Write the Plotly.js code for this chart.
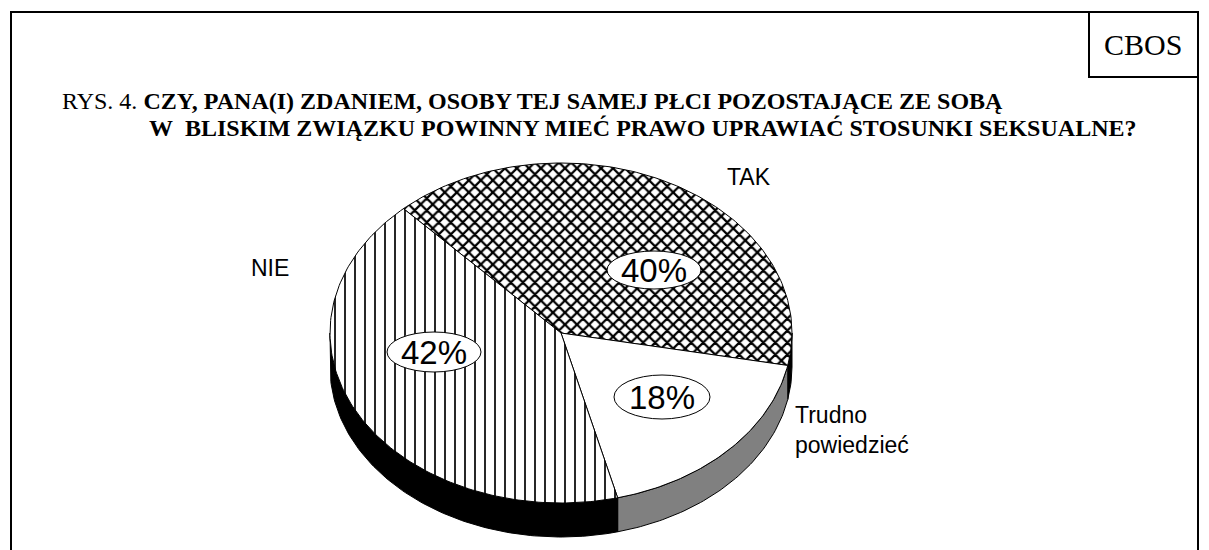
<!DOCTYPE html>
<html>
<head>
<meta charset="utf-8">
<script src="https://cdn.plot.ly/plotly-3.0.1.min.js"></script>
<style>html,body{margin:0;padding:0;background:#fff;}#chart{width:1209px;height:550px;}</style>
</head>
<body>
<div id="chart"></div>
<script>
// ---- data ----
const categories = ['TAK', 'Trudno powiedzieć', 'NIE'];
const values = [40, 18, 42];
const pctLabels = ['40%', '18%', '42%'];
const titleNormal = 'RYS. 4. ';
const titleLine1 = 'CZY, PANA(I) ZDANIEM, OSOBY TEJ SAMEJ PŁCI POZOSTAJĄCE ZE SOBĄ';
const titleLine2 = 'W\u00a0 BLISKIM ZWIĄZKU POWINNY MIEĆ PRAWO UPRAWIAĆ STOSUNKI SEKSUALNE?';
const sourceLabel = 'CBOS';

// ---- geometry / style (layout, not data) ----
const G = {cx: 561, cy: 333, rx: 231, ry: 170, depth: 34, start: 133};
const topStyles = [
  {fillcolor: 'white', fillpattern: {shape: 'x', fgcolor: 'black', bgcolor: 'white', size: 8.5, solidity: 0.45, fgopacity: 1}},
  {fillcolor: 'white'},
  {fillcolor: 'white', fillpattern: {shape: '|', fgcolor: 'black', bgcolor: 'white', size: 10, solidity: 0.17, fgopacity: 1}}
];
const sideColors = ['#000000', '#808080', '#000000'];

function pt(aDeg, dy) {
  const a = aDeg * Math.PI / 180;
  return [G.cx + G.rx * Math.cos(a), G.cy - G.ry * Math.sin(a) + (dy || 0)];
}

const total = values.reduce((s, v) => s + v, 0);
const traces = [];
const tops = [];
let ang = G.start;
values.forEach((v, i) => {
  const a1 = ang, a2 = ang - 360 * v / total;
  ang = a2;
  // top wedge
  const xs = [G.cx], ys = [G.cy];
  const n = Math.max(4, Math.ceil(a1 - a2));
  for (let k = 0; k <= n; k++) {
    const p = pt(a1 + (a2 - a1) * k / n);
    xs.push(p[0]); ys.push(p[1]);
  }
  xs.push(G.cx); ys.push(G.cy);
  tops.push(Object.assign({
    type: 'scatter', mode: 'lines', x: xs, y: ys, fill: 'toself',
    line: {color: 'black', width: 1}, hoverinfo: 'skip', showlegend: false, name: categories[i]
  }, topStyles[i]));
  // visible side (front half: angles between -180 and 0)
  const s1 = Math.min(a1, 0), s2 = Math.max(a2, -180);
  if (s1 > s2) {
    const sx = [], sy = [];
    const m = Math.max(4, Math.ceil(s1 - s2));
    for (let k = 0; k <= m; k++) { const p = pt(s1 + (s2 - s1) * k / m); sx.push(p[0]); sy.push(p[1]); }
    for (let k = m; k >= 0; k--) { const p = pt(s1 + (s2 - s1) * k / m, G.depth); sx.push(p[0]); sy.push(p[1]); }
    sx.push(sx[0]); sy.push(sy[0]);
    traces.push({
      type: 'scatter', mode: 'lines', x: sx, y: sy, fill: 'toself', fillcolor: sideColors[i],
      line: {color: 'black', width: 1}, hoverinfo: 'skip', showlegend: false
    });
  }
});
traces.push(...tops);

// label placement (layout)
const pctPos = [[654, 270], [662, 397], [434, 352]];
const ell = [[47, 19], [48, 22], [47, 20]];
const catPos = [
  {x: 725, y: 177, xanchor: 'left'},
  {x: 793, y: 430, xanchor: 'left', align: 'left'},
  {x: 291, y: 268, xanchor: 'right'}
];

const sans = 'Liberation Sans, Arial, sans-serif';
const serif = 'Liberation Serif, Times New Roman, serif';
const shapes = [
  {type: 'rect', xref: 'x', yref: 'y', x0: 11, y0: 12, x1: 1198, y1: 600, line: {color: 'black', width: 2}, fillcolor: 'rgba(0,0,0,0)'},
  {type: 'rect', xref: 'x', yref: 'y', x0: 1089, y0: 12, x1: 1198, y1: 77, line: {color: 'black', width: 2}, fillcolor: 'rgba(0,0,0,0)'}
];
const annotations = [
  {x: 1143, y: 44, text: sourceLabel, font: {family: serif, size: 30, color: 'black'}},
  {x: 60, y: 101, xanchor: 'left', text: titleNormal + '<b>' + titleLine1 + '</b>', font: {family: serif, size: 24, color: 'black'}},
  {x: 147, y: 128, xanchor: 'left', text: '<b>' + titleLine2 + '</b>', font: {family: serif, size: 24, color: 'black'}}
];
pctLabels.forEach((t, i) => {
  const [x, y] = pctPos[i];
  shapes.push({type: 'circle', xref: 'x', yref: 'y', x0: x - ell[i][0], x1: x + ell[i][0], y0: y - ell[i][1], y1: y + ell[i][1],
    line: {color: 'black', width: 1}, fillcolor: 'white', layer: 'above'});
  annotations.push({x: x, y: y, text: t, font: {family: sans, size: 33, color: 'black'}});
});
categories.forEach((c, i) => {
  annotations.push(Object.assign({text: c.replace(' ', '<br>'), font: {family: sans, size: 23, color: 'black'}}, catPos[i]));
});
annotations.forEach(a => { a.xref = 'x'; a.yref = 'y'; a.showarrow = false; if (!a.yanchor) a.yanchor = 'middle'; });

const layout = {
  width: 1209, height: 550, margin: {l: 0, r: 0, t: 0, b: 0},
  paper_bgcolor: 'white', plot_bgcolor: 'white',
  xaxis: {range: [0, 1209], visible: false, fixedrange: true},
  yaxis: {range: [550, 0], visible: false, fixedrange: true},
  shapes: shapes, annotations: annotations, showlegend: false
};
Plotly.newPlot('chart', traces, layout, {displayModeBar: false, staticPlot: true});
</script>
</body>
</html>
